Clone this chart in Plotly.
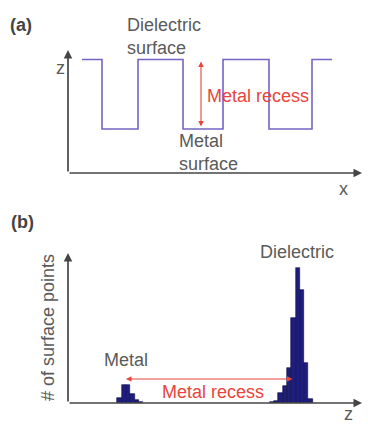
import plotly.graph_objects as go

W, H = 368, 426

# ---------- data ----------
# panel (a): square-wave surface profile (x position of each step, z level after it)
wave_x = [14, 34, 70, 115, 155, 201, 244, 264]
dielectric_level = 113.5
metal_level = 44
wave_z = [dielectric_level, metal_level, dielectric_level, metal_level,
          dielectric_level, metal_level, dielectric_level, dielectric_level]

# panel (b): histogram of surface heights
bin_width = 4.3
metal_bin_start = 49.3
metal_counts = [5, 18, 18, 9, 3, 1]
dielectric_bin_start = 201.7
dielectric_counts = [1, 2, 10, 17, 35, 85, 135, 113, 40, 4]

metal_centers = [metal_bin_start + bin_width * (i + 0.5) for i in range(len(metal_counts))]
diel_centers = [dielectric_bin_start + bin_width * (i + 0.5) for i in range(len(dielectric_counts))]

# axis extents
xa_max, ya_max = 294, 123
xb_max, yb_max = 294, 150

GRAY = "#5a5a5a"
AX = "#454545"
RED = "#e8453c"
PURPLE = "#7464c4"
NAVY = "#1e1e7c"
FONT = "Liberation Sans, Arial, sans-serif"

fig = go.Figure()

fig.add_trace(go.Scatter(
    x=wave_x, y=wave_z, mode="lines", line=dict(color=PURPLE, width=1.6, shape="hv"),
    xaxis="x", yaxis="y", hoverinfo="skip", showlegend=False))

fig.add_trace(go.Bar(
    x=metal_centers, y=metal_counts, width=bin_width,
    marker=dict(color=NAVY, line=dict(color="#0c0c45", width=0.6)),
    xaxis="x2", yaxis="y2", showlegend=False))
fig.add_trace(go.Bar(
    x=diel_centers, y=dielectric_counts, width=bin_width,
    marker=dict(color=NAVY, line=dict(color="#0c0c45", width=0.6)),
    xaxis="x2", yaxis="y2", showlegend=False))

def px2paper(px, py):
    return px / W, 1 - py / H

ann = []

def axis_arrow(xref, yref, x, y, ax, ay):
    ann.append(dict(x=x, y=y, ax=ax, ay=ay, xref=xref, yref=yref, axref=xref, ayref=yref,
                    text="", showarrow=True, arrowhead=2, arrowsize=1.0, arrowwidth=1.7,
                    arrowcolor=AX))

axis_arrow("x", "y", xa_max, 0, 0, 0)
axis_arrow("x", "y", 0, ya_max, 0, 0)
axis_arrow("x2", "y2", xb_max, 0, 0, 0)
axis_arrow("x2", "y2", 0, yb_max, 0, 0)

# red double arrows
ann.append(dict(x=133, y=dielectric_level - 2, ax=133, ay=metal_level + 1, xref="x", yref="y",
                axref="x", ayref="y", text="", showarrow=True, arrowhead=2, arrowsize=1,
                arrowwidth=1.1, arrowcolor=RED, arrowside="end+start"))
ann.append(dict(x=58, y=24, ax=226, ay=24, xref="x2", yref="y2",
                axref="x2", ayref="y2", text="", showarrow=True, arrowhead=2, arrowsize=1,
                arrowwidth=1.1, arrowcolor=RED, arrowside="end+start"))

def text(t, px, py, size=18, color=GRAY, xanchor="center", bold=False, angle=0, align="center"):
    x, y = px2paper(px, py)
    ann.append(dict(x=x, y=y, xref="paper", yref="paper", text=f"<b>{t}</b>" if bold else t,
                    showarrow=False, xanchor=xanchor, yanchor="middle", textangle=angle,
                    align=align, font=dict(family=FONT, size=size, color=color)))

text("(a)", 21, 25, color="#444", bold=True)
text("Dielectric<br>surface", 125, 36, xanchor="left", align="left")
text("Metal<br>surface", 177, 152, xanchor="left", align="left")
text("Metal recess", 205, 96, color=RED, xanchor="left")
text("z", 60, 68)
text("x", 343, 189)
text("(b)", 22, 222, color="#444", bold=True)
text("# of surface points", 48, 328, angle=-90)
text("Dielectric", 258, 252, xanchor="left")
text("Metal", 126, 360)
text("Metal recess", 213, 392, color=RED)
text("z", 348, 414)

noax = dict(showgrid=False, zeroline=False, showticklabels=False, ticks="", showline=False)
fig.update_layout(
    width=W, height=H, margin=dict(l=0, r=0, t=0, b=0),
    paper_bgcolor="white", plot_bgcolor="rgba(0,0,0,0)",
    bargap=0,
    xaxis=dict(domain=[68 / W, 362 / W], range=[0, xa_max], anchor="y", **noax),
    yaxis=dict(domain=[1 - 173 / H, 1 - 50 / H], range=[0, ya_max], anchor="x", **noax),
    xaxis2=dict(domain=[68 / W, 362 / W], range=[0, xb_max], anchor="y2", **noax),
    yaxis2=dict(domain=[1 - 403 / H, 1 - 253 / H], range=[0, yb_max], anchor="x2", **noax),
    annotations=ann,
)

fig.write_html("out.html")
